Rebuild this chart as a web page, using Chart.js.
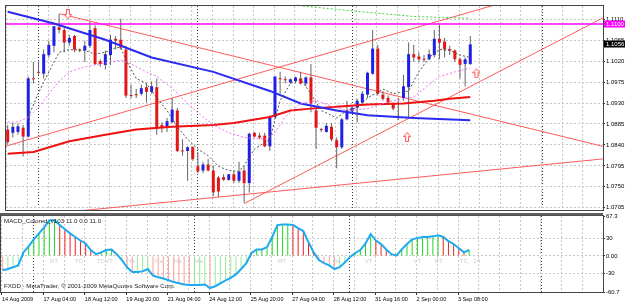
<!DOCTYPE html>
<html>
<head>
<meta charset="utf-8">
<script src="https://cdn.jsdelivr.net/npm/chart.js@4.4.0/dist/chart.umd.min.js"></script>
<style>
body { margin: 0; background: #fff; }
#wrap { position: relative; width: 625px; height: 304px; overflow: hidden; background: #fff; }
#price { position: absolute; left: 0; top: 0; }
#macd { position: absolute; left: 0; top: 213px; }
</style>
</head>
<body>
<div id="wrap">
<canvas id="price" width="625" height="216"></canvas>
<canvas id="macd" width="625" height="91"></canvas>
</div>
<script>
// EURUSD H4 candles, 14 Aug - 3 Sep 2009
var openP  = [1.0873,1.0866,1.0868,1.0877,1.0858,1.0983,1.0997,1.0993,1.1033,1.1053,
              1.1093,1.1087,1.1060,1.1074,1.1044,1.1043,1.1053,1.1091,1.1020,1.1012,
              1.1033,1.1068,1.1066,1.1045,1.0947,1.0949,1.0950,1.0964,1.0954,1.0964,
              1.0883,1.0879,1.0889,1.0914,1.0828,1.0827,1.0835,1.0794,1.0785,1.0798,
              1.0785,1.0770,1.0771,1.0765,1.0777,1.0763,1.0785,1.0758,1.0866,1.0860,
              1.0860,1.0837,1.0900,1.0983,1.0980,1.0974,1.0977,1.0983,1.0972,1.0985,
              1.0914,1.0874,1.0868,1.0879,1.0850,1.0835,1.0895,1.0912,1.0920,1.0931,
              1.0948,1.0993,1.1047,1.0948,1.0941,1.0929,1.0930,1.0941,1.0964,1.1035,
              1.1030,1.1025,1.1024,1.1033,1.1068,1.1062,1.1046,1.1043,1.1024,1.1014,
              1.1014];
var highP  = [1.0883,1.0887,1.0886,1.0883,1.0987,1.1018,1.1018,1.1045,1.1064,1.1095,
              1.1122,1.1091,1.1076,1.1076,1.1047,1.1064,1.1105,1.1097,1.1024,1.1043,
              1.1076,1.1074,1.1111,1.1053,1.0970,1.0960,1.0970,1.0972,1.0977,1.0983,
              1.0889,1.0898,1.0941,1.0920,1.0852,1.0837,1.0837,1.0825,1.0804,1.0810,
              1.0796,1.0773,1.0777,1.0777,1.0783,1.0804,1.0794,1.0866,1.0868,1.0866,
              1.0866,1.0904,1.0987,1.0997,1.0987,1.0983,1.0987,1.0997,1.0987,1.1014,
              1.0918,1.0877,1.0887,1.0887,1.0856,1.0898,1.0935,1.0925,1.0939,1.0956,
              1.0997,1.1087,1.1055,1.0956,1.0946,1.0931,1.0941,1.0991,1.1060,1.1055,
              1.1039,1.1033,1.1045,1.1087,1.1099,1.1070,1.1053,1.1045,1.1028,1.1028,
              1.1074];
var lowP   = [1.0841,1.0856,1.0862,1.0815,1.0856,1.0972,1.0991,1.0983,1.1028,1.1039,
              1.1080,1.1039,1.1053,1.1039,1.1039,1.1018,1.1049,1.1012,1.1008,1.1002,
              1.1012,1.1045,1.1045,1.0941,1.0941,1.0941,1.0946,1.0931,1.0950,1.0862,
              1.0866,1.0868,1.0887,1.0825,1.0817,1.0763,1.0806,1.0779,1.0779,1.0783,
              1.0730,1.0728,1.0763,1.0763,1.0758,1.0758,1.0716,1.0738,1.0856,1.0852,
              1.0835,1.0827,1.0898,1.0950,1.0972,1.0972,1.0972,1.0970,1.0966,1.0910,
              1.0831,1.0868,1.0866,1.0848,1.0790,1.0831,1.0893,1.0910,1.0889,1.0929,
              1.0941,1.0991,1.0946,1.0935,1.0929,1.0914,1.0893,1.0935,1.0898,1.1018,
              1.1018,1.1018,1.1022,1.1028,1.1024,1.1028,1.1033,1.1018,1.0983,1.0966,
              1.1012];
var closeP = [1.0846,1.0879,1.0880,1.0858,1.0983,1.0981,1.0995,1.1035,1.1055,1.1095,
              1.1087,1.1060,1.1070,1.1045,1.1043,1.1053,1.1087,1.1014,1.1014,1.1035,
              1.1066,1.1064,1.1049,1.0946,1.0945,1.0947,1.0962,1.0954,1.0966,1.0877,
              1.0877,1.0891,1.0916,1.0827,1.0826,1.0835,1.0810,1.0783,1.0798,1.0785,
              1.0738,1.0740,1.0765,1.0777,1.0763,1.0783,1.0758,1.0864,1.0858,1.0856,
              1.0837,1.0900,1.0987,1.0981,1.0979,1.0981,1.0985,1.0972,1.0985,1.0929,
              1.0877,1.0872,1.0881,1.0852,1.0835,1.0895,1.0914,1.0920,1.0935,1.0950,
              1.0995,1.1047,1.0950,1.0939,1.0931,1.0918,1.0928,1.0966,1.1035,1.1028,
              1.1024,1.1023,1.1035,1.1068,1.1060,1.1045,1.1043,1.1024,1.1012,1.1024,
              1.1056];

// moving averages, read at a few bars each
var maBlueBars = [0, 9, 19, 28, 40, 51, 57, 64, 70, 79, 90];
var maBlueVals = [1.1126,1.1101,1.1066,1.1028,1.0997,1.0956,1.0929,1.0914,1.0904,1.0898,1.0893];
var maRedBars  = [0, 5, 12, 19, 25, 32, 40, 44, 51, 55, 59, 64, 70, 77, 83, 86, 90];
var maRedVals  = [1.0821,1.0825,1.0848,1.0862,1.0873,1.0879,1.0883,1.0887,1.0900,1.0914,1.0918,1.0922,1.0927,1.0929,1.0935,1.0939,1.0943];
var fastBars = [4,6,8,10,12,15,17,19,21,22,23,25,27,29,31,33,35,37,39,41,43,45,46,48,51,53,55,57,59,61,64,66,68,70,73,75,78,79,80,82,84,86,88,90];
var fastVals = [1.0900,1.0952,1.0997,1.1039,1.1045,1.1043,1.1035,1.1039,1.1049,1.1049,1.1022,1.0983,1.0972,1.0941,1.0914,1.0879,1.0852,1.0831,1.0817,1.0794,1.0785,1.0783,1.0796,1.0831,1.0852,1.0935,1.0972,1.0981,1.0950,1.0914,1.0898,1.0914,1.0920,1.0941,1.0960,1.0950,1.0956,1.0977,1.0997,1.1028,1.1045,1.1043,1.1033,1.1028];
var slowBars = [0,2,4,6,8,10,12,15,17,20,22,24,27,29,32,35,38,40,43,46,50,52,54,57,60,64,66,70,73,75,79,82,84,87,90];
var slowVals = [1.0889,1.0889,1.0900,1.0920,1.0950,1.0977,1.0997,1.1008,1.1012,1.1018,1.1022,1.1014,1.0997,1.0987,1.0962,1.0929,1.0900,1.0883,1.0866,1.0856,1.0852,1.0866,1.0900,1.0929,1.0935,1.0920,1.0914,1.0918,1.0929,1.0935,1.0943,1.0970,1.0987,1.0997,1.1005];
var greenBars = [52, 57, 67, 79, 90];
var greenVals = [1.1146, 1.1139, 1.1128, 1.1116, 1.1112];

// hand drawn objects: level, trend lines, arrows
var levelLine = 1.1100;
var trendA = [[10.1, 1.1122], [115.8, 1.0837]];
var trendB = [[-0.5, 1.0837], [115.8, 1.1208]];
var trendC = [[0, 1.0683], [115.8, 1.0810]];
var trendD = [[46, 1.0714], [115.8, 1.1113]];
var arrowDown = [[11.7, 1.1121]];
var arrowUp = [[77.7, 1.0857], [91.2, 1.0994]];

// MACD_Colored_v103
var macd = [-24,-22,-19,-16,6,16,28,38,48,60,
            60,52,45,38,32,26,21,10,3,6,
            10,11,3,-7,-19,-27,-27,-26,-22,-33,
            -36,-38,-41,-44,-46,-48,-49,-49,-49,-48,
            -54,-51,-46,-41,-37,-31,-22,-12,5,11,
            11,15,32,52,53,53,52,47,42,23,
            6,-7,-12,-16,-22,-19,-11,-2,5,10,
            21,37,26,20,11,3,1,11,20,28,
            30,32,32,33,35,32,25,20,13,6,10];
var patternText = ['RT','TC','TCVT','Ha','Ha','Ha','Ma','RT','Ha','VT','VT','RT','TC','24'];
var patternBars = [9.9,14.7,19.7,24.7,30.1,33.7,37.8,53.9,64.4,70.6,80.0,84.1,89.0,91.5];

// axes
var dateLabels = ['14 Aug 2009','17 Aug 04:00','18 Aug 12:00','19 Aug 20:00','21 Aug 04:00','24 Aug 12:00',
                  '25 Aug 20:00','27 Aug 04:00','28 Aug 12:00','31 Aug 16:00','2 Sep 00:00','3 Sep 08:00'];
var priceTicks = [1.0705,1.0750,1.0795,1.0840,1.0885,1.0930,1.0975,1.1020,1.1065,1.1110];
var macdTicks = [-60.7,-45,-30,-15,0,15,30,45,67.3];
var macdTickText = ['-60.7','-45','-30','-15','0.00','15','30','45','67.3'];
var weekStarts = [6, 37, 67, 104];

var X_MIN = -0.33, X_MAX = 115.82;
var AXIS_W = 22;
var FONT = "'Liberation Sans', Arial, sans-serif";
var GRID = '#c6c6c6';

Chart.defaults.font.family = FONT;
Chart.defaults.font.size = 6;
Chart.defaults.color = '#000';

function pts(bars, vals) {
    return bars.map(function (b, k) { return { x: b, y: vals[k] }; });
}
function seg(line) {
    return line.map(function (p) { return { x: p[0], y: p[1] }; });
}

// grid every 4 bars, date label every 8 bars (MT4 puts them at the left of the bar)
var gridValues = [];
for (var k = 0; k * 4 - 0.15 <= X_MAX; k++) gridValues.push(k * 4 - 0.15);

function setTicks(values) {
    return function (scale) {
        scale.ticks = values.map(function (v) { return { value: v }; });
    };
}
function noPad(scale) {
    scale.paddingLeft = 0; scale.paddingRight = 0;
    scale.paddingTop = 0; scale.paddingBottom = 0;
}

function makeArrow(up) {
    var c = document.createElement('canvas');
    c.width = 8; c.height = 10;
    var g = c.getContext('2d');
    var shape = [[4, 0.5], [7.5, 4.5], [5.5, 4.5], [5.5, 9.5], [2.5, 9.5], [2.5, 4.5], [0.5, 4.5]];
    g.beginPath();
    shape.forEach(function (p, i) {
        var y = up ? p[1] : 10 - p[1];
        if (i === 0) g.moveTo(p[0], y); else g.lineTo(p[0], y);
    });
    g.closePath();
    g.fillStyle = '#fff';
    g.fill();
    g.strokeStyle = '#ff4c4c';
    g.lineWidth = 1;
    g.stroke();
    return c;
}

var framePlugin = {
    id: 'frame',
    afterDraw: function (chart) {
        var a = chart.chartArea, ctx = chart.ctx;
        ctx.save();
        ctx.strokeStyle = '#454545';
        ctx.lineWidth = 1;
        ctx.strokeRect(a.left - 0.5, a.top - 0.5, a.right - a.left + 1, a.bottom - a.top + 1);
        ctx.restore();
    }
};

var levelBoxes = {
    id: 'levelBoxes',
    afterDraw: function (chart) {
        var ctx = chart.ctx, ys = chart.scales.y, a = chart.chartArea;
        var boxes = [[levelLine, '#ff00ff'], [closeP[closeP.length - 1], '#000000']];
        ctx.save();
        ctx.font = '6px ' + FONT;
        ctx.textBaseline = 'middle';
        ctx.textAlign = 'left';
        boxes.forEach(function (b) {
            var y = ys.getPixelForValue(b[0]);
            ctx.fillStyle = b[1];
            ctx.fillRect(a.right + 1, Math.round(y) - 3.5, AXIS_W - 1, 7);
            ctx.fillStyle = '#fff';
            ctx.fillText(b[0].toFixed(4), a.right + 3, y);
        });
        ctx.restore();
    }
};

var macdText = {
    id: 'macdText',
    afterDraw: function (chart) {
        var ctx = chart.ctx, a = chart.chartArea, xs = chart.scales.x, ys = chart.scales.y;
        ctx.save();
        ctx.fillStyle = '#5e5e5e';
        ctx.fillRect(0, 0, a.right, 2.5);
        ctx.font = '6.2px ' + FONT;
        ctx.textBaseline = 'middle';
        ctx.textAlign = 'left';
        ctx.fillStyle = '#222';
        ctx.fillText('MACD_Colored_v103 11.0 0.0 11.0', a.left + 3, a.top + 5.5);
        ctx.fillText('FXDD - MetaTrader, \u00a9 2001-2009 MetaQuotes Software Corp.', a.left + 3, a.bottom - 5.5);
        ctx.fillStyle = '#cdcdcd';
        ctx.textAlign = 'center';
        var y0 = ys.getPixelForValue(0) + 5.5;
        patternText.forEach(function (t, i) {
            ctx.fillText(t, xs.getPixelForValue(patternBars[i]), y0);
        });
        ctx.restore();
    }
};

function lineSet(data, color, width, dash, order) {
    return {
        type: 'line', data: data, borderColor: color, borderWidth: width,
        borderDash: dash, pointRadius: 0, tension: 0, fill: false, order: order
    };
}

function xGridAxis(extra) {
    var ax = {
        type: 'linear', position: 'bottom', min: X_MIN, max: X_MAX, bounds: 'data',
        offset: false,
        afterBuildTicks: setTicks(gridValues),
        ticks: { display: false, autoSkip: false },
        grid: { color: GRID, drawTicks: false, offset: false, lineWidth: 1 },
        border: { display: false, dash: [2, 2] }
    };
    for (var key in extra) ax[key] = extra[key];
    return ax;
}
function sepAxis() {
    return {
        type: 'linear', axis: 'x', position: 'bottom', min: X_MIN, max: X_MAX, bounds: 'data',
        offset: false,
        afterBuildTicks: setTicks(weekStarts),
        afterFit: function (s) { s.height = 0; noPad(s); },
        ticks: { display: false, autoSkip: false },
        grid: { color: '#3a3a3a', drawTicks: false, offset: false },
        border: { display: false, dash: [1, 2] }
    };
}

var bodyColor = closeP.map(function (c, i) { return c >= openP[i] ? '#2020e4' : '#e41616'; });

new Chart(document.getElementById('price'), {
    data: {
        datasets: [
            { type: 'scatter', data: seg(arrowDown), pointStyle: makeArrow(false), pointRadius: 5, order: 0 },
            { type: 'scatter', data: seg(arrowUp), pointStyle: makeArrow(true), pointRadius: 5, order: 0 },
            lineSet(pts(fastBars, fastVals), '#505050', 1, [2, 2], 1),
            lineSet(pts(slowBars, slowVals), '#f070f0', 1, [2, 2], 2),
            lineSet(pts(maBlueBars, maBlueVals), '#2a2af0', 2, [], 3),
            lineSet(pts(maRedBars, maRedVals), '#f01010', 2, [], 4),
            lineSet(pts(greenBars, greenVals), '#40d040', 1, [2, 2], 5),
            lineSet([{ x: X_MIN - 1, y: levelLine }, { x: X_MAX + 1, y: levelLine }], '#ff00ff', 1.5, [], 6),
            {
                type: 'bar', data: openP.map(function (o, i) { return { x: i, y: [o, closeP[i]] }; }),
                backgroundColor: bodyColor, barThickness: 3, grouped: false, minBarLength: 1,
                borderWidth: 0, inflateAmount: 0, order: 7
            },
            {
                type: 'bar', data: lowP.map(function (l, i) { return { x: i, y: [l, highP[i]] }; }),
                backgroundColor: '#646464', barThickness: 1, grouped: false,
                borderWidth: 0, inflateAmount: 0, order: 8
            },
            lineSet(seg(trendA), '#ff5a5a', 1, [], 9),
            lineSet(seg(trendB), '#ff5a5a', 1, [], 9),
            lineSet(seg(trendC), '#ff5a5a', 1, [], 9),
            lineSet(seg(trendD), '#ff5a5a', 1, [], 9)
        ]
    },
    options: {
        responsive: false, animation: false, devicePixelRatio: 1,
        layout: { padding: { left: 1, top: 2, right: 0, bottom: 3 } },
        plugins: { legend: { display: false }, tooltip: { enabled: false } },
        scales: {
            x: xGridAxis({ afterFit: function (s) { s.height = 0; noPad(s); } }),
            sep: sepAxis(),
            y: {
                type: 'linear', position: 'right', min: 1.07002, max: 1.11385, bounds: 'data',
                afterBuildTicks: setTicks(priceTicks),
                afterFit: function (s) { s.width = AXIS_W; noPad(s); },
                ticks: { padding: 1, callback: function (v) { return v.toFixed(4); } },
                grid: { color: GRID, tickLength: 2, tickColor: '#303030' },
                border: { display: true, color: '#303030', dash: [2, 2] }
            }
        }
    },
    plugins: [framePlugin, levelBoxes]
});

var histColor = macd.map(function (v, i) {
    var prev = i > 0 ? macd[i - 1] : Infinity;
    var rising = v >= prev;
    if (v >= 0) return rising ? '#22d822' : '#ee2222';
    return rising ? '#96ea96' : '#ff9c9c';
});
var macdPts = macd.map(function (v, i) { return { x: i, y: v }; });

new Chart(document.getElementById('macd'), {
    data: {
        datasets: [
            lineSet(macdPts, '#1eaaf0', 2, [], 1),
            {
                type: 'bar', data: macdPts, backgroundColor: histColor, barThickness: 1,
                grouped: false, borderWidth: 0, inflateAmount: 0, order: 2
            }
        ]
    },
    options: {
        responsive: false, animation: false, devicePixelRatio: 1,
        layout: { padding: { left: 1, top: 3, right: 0, bottom: 0 } },
        plugins: { legend: { display: false }, tooltip: { enabled: false } },
        scales: {
            x: xGridAxis({
                afterFit: function (s) { s.height = 12; noPad(s); },
                ticks: {
                    display: true, autoSkip: false, maxRotation: 0, align: 'start', padding: 1,
                    font: { size: 5.5 },
                    callback: function (v, i) {
                        return (i % 2 === 0 && i / 2 < dateLabels.length) ? dateLabels[i / 2] : '';
                    }
                },
                grid: {
                    color: GRID, drawTicks: true, tickLength: 3, offset: false,
                    tickColor: function (c) {
                        return (c.index % 2 === 0 && c.index / 2 < dateLabels.length) ? '#303030' : 'rgba(0,0,0,0)';
                    }
                }
            }),
            sep: sepAxis(),
            y: {
                type: 'linear', position: 'right', min: -60.7, max: 67.3, bounds: 'data',
                afterBuildTicks: setTicks(macdTicks),
                afterFit: function (s) { s.width = AXIS_W; noPad(s); },
                ticks: { padding: 1, callback: function (v, i) { return macdTickText[i]; } },
                grid: {
                    tickLength: 2, tickColor: '#303030',
                    color: function (c) {
                        var v = c.tick ? c.tick.value : 0;
                        return (v === 67.3 || v === -60.7) ? 'rgba(0,0,0,0)' : GRID;
                    }
                },
                border: { display: true, color: '#303030', dash: [2, 2] }
            }
        }
    },
    plugins: [framePlugin, macdText]
});
</script>
</body>
</html>
